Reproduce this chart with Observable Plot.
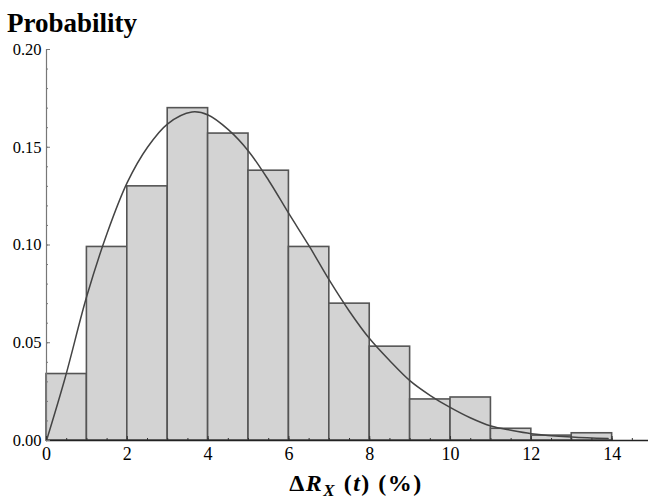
<!DOCTYPE html>
<html>
<head>
<meta charset="utf-8">
<script src="https://cdn.jsdelivr.net/npm/d3@7"></script>
<script src="https://cdn.jsdelivr.net/npm/@observablehq/plot@0.6"></script>
<style>
  html, body { margin: 0; padding: 0; background: #fff; }
  #chart { position: relative; width: 649px; height: 501px; }
</style>
</head>
<body>
<div id="chart"></div>
<script>
// Histogram bins (left edges, width 1) and probabilities
const binStart = [0, 1, 2, 3, 4, 5, 6, 7, 8, 9, 10, 11, 12, 13];
const binWidth = 1;
const probs = [0.034, 0.099, 0.130, 0.170, 0.157, 0.138, 0.099, 0.070, 0.048, 0.021, 0.022, 0.006, 0.0025, 0.0037];

// Fitted density curve
const curveX = [0, 0.46, 1.0, 1.5, 2.0, 2.5, 3.0, 3.6, 4.0, 4.5, 5.0, 5.5, 6.0, 6.5, 7.0, 7.5, 8.0, 8.5, 9.0, 9.5, 10.0, 10.5, 11.0, 11.5, 12.0, 13.0, 13.9];
const curveY = [0, 0.032, 0.074, 0.106, 0.132, 0.150, 0.162, 0.168, 0.1665, 0.159, 0.148, 0.133, 0.116, 0.0995, 0.082, 0.066, 0.052, 0.0407, 0.0305, 0.023, 0.0168, 0.0115, 0.0074, 0.0052, 0.0035, 0.0018, 0.001];

// Ticks
const xMajor = [0, 2, 4, 6, 8, 10, 12, 14];
const xMinor = d3.range(0, 15, 0.5);
const yMajor = [0, 0.05, 0.10, 0.15, 0.20];
const yMinor = d3.range(0, 0.2001, 0.01);

const bars = binStart.map((s, i) => ({x1: s, x2: s + binWidth, p: probs[i]}));
const curve = curveX.map((x, i) => ({x, y: curveY[i]}));

const serif = "'Liberation Serif', 'Times New Roman', serif";

const svg = Plot.plot({
  width: 649,
  height: 501,
  marginLeft: 46,
  marginRight: 1,
  marginTop: 49,
  marginBottom: 61,
  style: {fontFamily: serif, fontSize: "16px", color: "#000", background: "#fff"},
  x: {domain: [0, 14.9]},
  y: {domain: [0, 0.2]},
  marks: [
    Plot.rectY(bars, {x1: "x1", x2: "x2", y: "p", fill: "#d3d3d3", stroke: "#555", strokeWidth: 1.6}),
    Plot.line(curve, {x: "x", y: "y", curve: "catmull-rom", stroke: "#444", strokeWidth: 1.5}),
    Plot.ruleX([0], {stroke: "#777", strokeWidth: 1.2}),
    Plot.ruleY([0], {stroke: "#222", strokeWidth: 1.3}),
    Plot.axisY({ticks: yMinor, tickSize: -2, tickFormat: () => "", label: null, stroke: "#777"}),
    Plot.axisY({ticks: yMajor, tickSize: -4, tickPadding: 9, tickFormat: d3.format(".2f"), label: null, fontSize: 16.5, stroke: "#777"}),
    Plot.axisX({ticks: xMinor, tickSize: -2, tickFormat: () => "", label: null, stroke: "#333"}),
    Plot.axisX({ticks: xMajor, tickSize: -4, tickPadding: 11, tickFormat: d => String(d), label: null, fontSize: 18, stroke: "#333"})
  ]
});

const s = d3.select(svg);
s.append("text")
  .attr("x", 7).attr("y", 32)
  .attr("text-anchor", "start")
  .style("font-family", serif)
  .style("font-weight", "bold")
  .style("font-size", "27px")
  .style("fill", "#000")
  .text("Probability");

const lab = s.append("text")
  .attr("x", 356).attr("y", 491)
  .attr("text-anchor", "middle")
  .style("font-family", serif)
  .style("font-weight", "bold")
  .style("font-size", "24px")
  .style("letter-spacing", "1.5px")
  .style("fill", "#000");
lab.append("tspan").text("\u0394");
lab.append("tspan").style("font-style", "italic").text("R");
lab.append("tspan").style("font-style", "italic").style("font-size", "17px").attr("dy", 5).text("X");
lab.append("tspan").attr("dy", -5).text(" (");
lab.append("tspan").style("font-style", "italic").text("t");
lab.append("tspan").text(") (%)");

document.getElementById("chart").appendChild(svg);
</script>
</body>
</html>
